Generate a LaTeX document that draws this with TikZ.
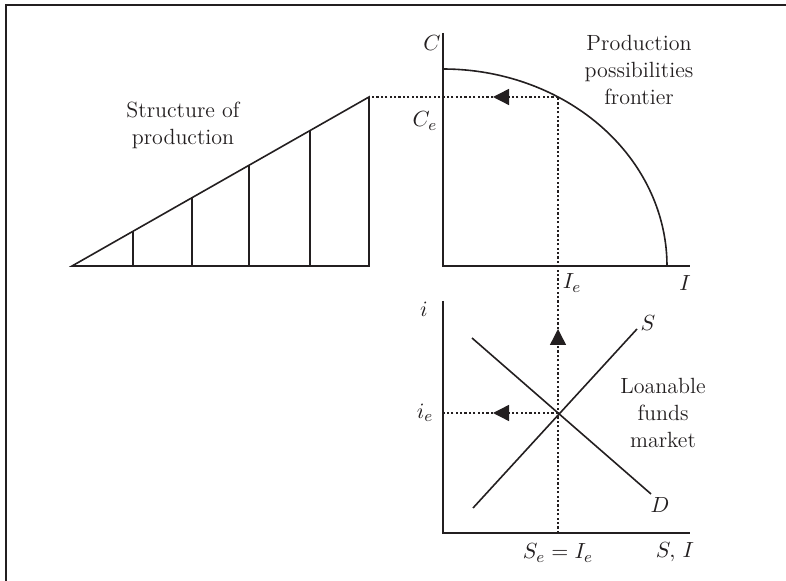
\documentclass[tikz,border=0pt]{standalone}
\usepackage{amsmath,amssymb}
\usepackage{xcolor}
\usepackage{tikz}
\usetikzlibrary{calc,arrows.meta,positioning}
\definecolor{inkc}{HTML}{231F20}
\tikzset{
  ax/.style={line width=0.8pt,inkc},
  dl/.style={inkc,line width=0.7pt,dash pattern=on 1.1pt off 1.1pt},
  tri/.style={-{Triangle[length=8pt,width=8pt]}},
  lbl/.style={font=\fontsize{11}{13.5}\selectfont,inkc,align=center,inner sep=0pt}
}

\begin{document}
\begin{tikzpicture}[x=0.5pt,y=-0.5pt]
\useasboundingbox (0,0) rectangle (786,581);
% frame
\draw[inkc,line width=1.2pt] (6,581)--(6,5)--(786,5);
% structure of production
\coordinate (A) at (72,266);
\coordinate (B) at (369,266);
\coordinate (T) at (369,97);
\draw[ax] (A)--(B)--(T)--cycle;
\foreach \xx in {133,192,249,310}
  \draw[ax] (\xx,266)--(\xx,{266-(\xx-72)/297*169});
\node[lbl] (sop) at (183,125) {Structure of\\production};
% production possibilities frontier
\coordinate (O1) at (443,266);
\draw[ax] (443,33)--(O1)--(690,266);
\draw[ax] plot[domain=0:90,samples=60,smooth] ({443+224*cos(\x)},{266-197*sin(\x)});
\node[lbl] (ppf) at (639,70) {Production\\possibilities\\frontier};
\node[lbl] (C) at (432,43) {$C$};
\node[lbl] (Ce) at (425,121) {$C_e$};
\node[lbl] (Ie) at (572,283) {$I_e$};
\node[lbl] (I) at (685,283) {$I$};
% loanable funds market
\coordinate (O2) at (443,533);
\draw[ax] (443,301)--(O2)--(690,533);
\coordinate (s0) at (473,508);
\coordinate (s1) at (637,329);
\coordinate (d0) at (472,338);
\coordinate (d1) at (651,494);
\draw[ax] (s0)--(s1);
\draw[ax] (d0)--(d1);
\node[lbl] (S) at (648,323) {$S$};
\node[lbl] (D) at (660,505) {$D$};
\node[lbl] (i) at (424,309) {$i$};
\node[lbl] (ie) at (425,413) {$i_e$};
\node[lbl] (SeIe) at (558,553) {$S_e = I_e$};
\node[lbl] (SI) at (675,552) {$S,\, I$};
\node[lbl] (lfm) at (663,413) {Loanable\\funds\\market};
% dotted links
\coordinate (E1) at (558,97);
\coordinate (E2) at (558,413);
\coordinate (E3) at (558,533);
\draw[dl,tri] (E1)--(493,97);
\draw[dl] (493,97)--(T);
\draw[dl,tri] (E3)--(558,329);
\draw[dl] (558,329)--(E1);
\draw[dl,tri] (E2)--(493,413);
\draw[dl] (493,413)--(443,413);
\end{tikzpicture}
\end{document}
